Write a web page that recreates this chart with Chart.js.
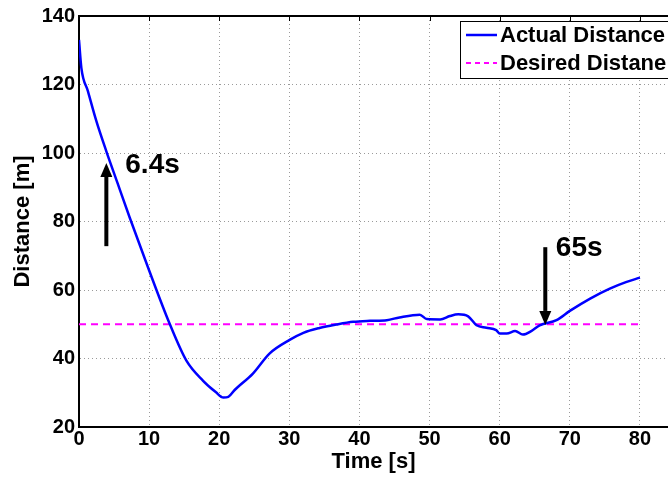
<!DOCTYPE html>
<html>
<head>
<meta charset="utf-8">
<script src="https://cdn.jsdelivr.net/npm/chart.js@4/dist/chart.umd.min.js"></script>
<style>
  html, body { margin: 0; padding: 0; background: #ffffff; }
  #wrap { width: 668px; height: 480px; position: relative; }
  canvas { display: block; }
</style>
</head>
<body>
<div id="wrap"><canvas id="c" width="668" height="480"></canvas></div>
<script>
// ---- data ----
const timeSec = [0, 0.34, 1.28, 2.48, 3.9, 5.5, 7.24, 9.86, 12.96, 15.34, 17.7, 19.5, 20.6, 21.3, 22.2, 24.8, 27.2, 30.1, 32.0, 34.3, 36.7, 39.1, 41.5, 43.9, 45.7, 48.6, 49.6, 51.5, 52.9, 54.1, 55.5, 56.7, 58.1, 59.5, 60.0, 61.0, 62.2, 63.3, 64.5, 65.7, 68.1, 70.0, 72.9, 75.7, 78.0, 80.0];
const actualDistance = [133.0, 124.8, 118.0, 109.3, 100.5, 91.2, 81.1, 66.5, 50.0, 39.3, 33.5, 30.2, 28.6, 28.8, 30.8, 35.6, 41.5, 45.5, 47.5, 48.9, 49.9, 50.7, 51.0, 51.2, 52.0, 52.8, 51.5, 51.4, 52.4, 52.9, 52.3, 49.7, 49.0, 48.3, 47.3, 47.3, 48.0, 47.0, 48.0, 49.7, 51.2, 53.9, 57.5, 60.4, 62.3, 63.6];
const desiredTime = [0, 80];
const desiredDistance = [50, 50];
const seriesLabels = ["Actual Distance", "Desired Distane"];
const xTitle = "Time [s]";
const yTitle = "Distance [m]";
// annotation arrows (data units): [x, fromY, toY]
const arrowUp = [3.9, 72.8, 97.1];
const arrowDown = [66.5, 72.5, 49.8];
const noteUp = { text: "6.4s", x: 6.6, y: 94.2 };
const noteDown = { text: "65s", x: 68.0, y: 69.9 };

const FONT = "'Liberation Sans', Arial, Helvetica, sans-serif";

const boxPlugin = {
  id: 'boxPlugin',
  afterDatasetsDraw(chart) {
    const ctx = chart.ctx;
    const ca = chart.chartArea;
    const xs = chart.scales.x, ys = chart.scales.y;
    ctx.save();
    // top border
    ctx.strokeStyle = '#000';
    ctx.lineWidth = 2;
    ctx.beginPath();
    ctx.moveTo(ca.left, ca.top);
    ctx.lineTo(ca.right, ca.top);
    ctx.stroke();
    // small inward ticks on top border
    ctx.lineWidth = 1;
    for (let v = 10; v <= 80; v += 10) {
      const px = Math.round(xs.getPixelForValue(v)) + 0.5;
      ctx.beginPath();
      ctx.moveTo(px, ca.top);
      ctx.lineTo(px, ca.top + 5);
      ctx.stroke();
    }

    // arrows
    const drawArrow = (a) => {
      const px = xs.getPixelForValue(a[0]);
      const y0 = ys.getPixelForValue(a[1]);
      const y1 = ys.getPixelForValue(a[2]);
      const dir = y1 < y0 ? -1 : 1;
      const headLen = 14, headW = 6;
      ctx.strokeStyle = '#000';
      ctx.fillStyle = '#000';
      ctx.lineWidth = 4;
      ctx.beginPath();
      ctx.moveTo(px, y0);
      ctx.lineTo(px, y1 - dir * headLen);
      ctx.stroke();
      ctx.beginPath();
      ctx.moveTo(px, y1);
      ctx.lineTo(px - headW, y1 - dir * headLen);
      ctx.lineTo(px + headW, y1 - dir * headLen);
      ctx.closePath();
      ctx.fill();
    };
    drawArrow(arrowUp);
    drawArrow(arrowDown);

    ctx.font = "bold 28px " + FONT;
    ctx.textAlign = 'left';
    ctx.textBaseline = 'alphabetic';
    ctx.fillStyle = '#000';
    [noteUp, noteDown].forEach(n => {
      ctx.fillText(n.text, xs.getPixelForValue(n.x), ys.getPixelForValue(n.y));
    });

    // legend box
    const lx = ca.left + 381, ly = ca.top + 5;
    ctx.fillStyle = '#fff';
    ctx.fillRect(lx, ly, 300, 57);
    ctx.strokeStyle = '#000';
    ctx.lineWidth = 1;
    ctx.strokeRect(lx + 0.5, ly + 0.5, 300, 57);
    const ds = chart.data.datasets;
    const rows = [ly + 14, ly + 42];
    ds.forEach((d, i) => {
      ctx.strokeStyle = d.borderColor;
      ctx.lineWidth = d.borderWidth;
      ctx.setLineDash(i === 1 ? [5, 4] : []);
      ctx.beginPath();
      ctx.moveTo(lx + 6, rows[i]);
      ctx.lineTo(lx + 37, rows[i]);
      ctx.stroke();
      ctx.setLineDash([]);
      ctx.fillStyle = '#000';
      ctx.font = "bold 22px " + FONT;
      ctx.textBaseline = 'middle';
      ctx.fillText(d.label, lx + 40, rows[i] + 1);
    });
    ctx.restore();
  }
};

new Chart(document.getElementById('c'), {
  type: 'line',
  data: {
    datasets: [
      {
        label: seriesLabels[0],
        data: timeSec.map((t, i) => ({ x: t, y: actualDistance[i] })),
        borderColor: '#0000ff',
        borderWidth: 2.5,
        pointRadius: 0,
        fill: false,
        cubicInterpolationMode: 'monotone'
      },
      {
        label: seriesLabels[1],
        data: desiredTime.map((t, i) => ({ x: t, y: desiredDistance[i] })),
        borderColor: '#ff00ff',
        borderWidth: 2,
        borderDash: [7, 5],
        pointRadius: 0,
        fill: false
      }
    ]
  },
  options: {
    responsive: false,
    devicePixelRatio: 1,
    animation: false,
    layout: { padding: { top: 15, right: 0, left: 0, bottom: 0 } },
    plugins: { legend: { display: false }, tooltip: { enabled: false } },
    scales: {
      x: {
        type: 'linear',
        min: 0, max: 84,
        afterFit(scale) { scale.height = 53; },
        ticks: { stepSize: 10, includeBounds: false, padding: 0, color: '#000', font: { family: FONT, size: 20, weight: 'bold' }, maxRotation: 0 },
        grid: { color: '#9a9a9a', lineWidth: 1, drawTicks: false },
        border: { color: '#000', width: 2, dash: [1, 3] },
        title: { display: true, text: xTitle, color: '#000', font: { family: FONT, size: 22, weight: 'bold' }, padding: { top: 0, bottom: 5 } }
      },
      y: {
        min: 20, max: 140,
        afterFit(scale) { scale.width = 79; },
        ticks: { stepSize: 20, padding: 4, color: '#000', font: { family: FONT, size: 20, weight: 'bold' } },
        grid: { color: '#9a9a9a', lineWidth: 1, drawTicks: false },
        border: { color: '#000', width: 2, dash: [1, 3] },
        title: { display: true, text: yTitle, color: '#000', font: { family: FONT, size: 22, weight: 'bold' }, padding: { top: 10, bottom: 0 } }
      }
    }
  },
  plugins: [boxPlugin]
});
</script>
</body>
</html>
